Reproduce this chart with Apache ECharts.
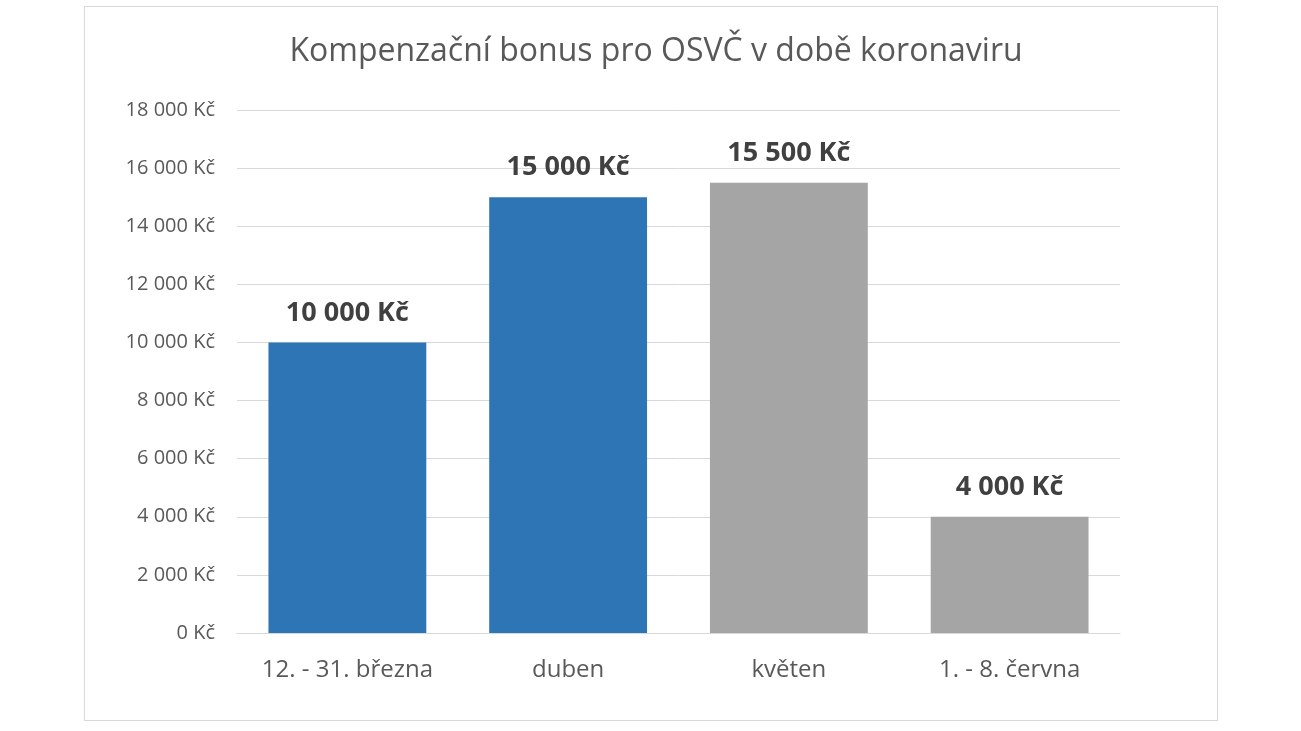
<!DOCTYPE html>
<html><head><meta charset="utf-8">
<script src="https://cdn.jsdelivr.net/npm/echarts@6/dist/echarts.min.js"></script>
<style>html,body{margin:0;padding:0;background:#fff}#c{width:1301px;height:731px}
#frame{position:absolute;left:84px;top:6px;width:1132px;height:713px;border:1px solid #d9d9d9;box-sizing:content-box;pointer-events:none}</style>
</head><body><div id="c"></div><div id="frame"></div>
<script>
const categories = ['12. - 31. března', 'duben', 'květen', '1. - 8. června'];
const values = [10000, 15000, 15500, 4000];
const barColors = ['#2E75B6', '#2E75B6', '#A5A5A5', '#A5A5A5'];
const title = 'Kompenzační bonus pro OSVČ v době koronaviru';
function fmt(v){ return String(v).replace(/\B(?=(\d{3})+(?!\d))/g, ' ') + ' Kč'; }
const chart = echarts.init(document.getElementById('c'));
chart.setOption({
  animation: false,
  title: { text: title, left: 651, textAlign: 'center', top: 31,
    textStyle: { fontFamily: 'Open Sans', fontSize: 32, fontWeight: 'normal', color: '#595959' } },
  grid: { left: 237, right: 181, top: 110, bottom: 98 },
  xAxis: { type: 'category', data: categories,
    axisLine: { lineStyle: { color: '#d9d9d9', width: 1 } },
    axisTick: { show: false },
    axisLabel: { interval: 0, hideOverlap: false, fontFamily: 'Open Sans', fontSize: 24, color: '#595959', margin: 25 } },
  yAxis: { type: 'value', min: 0, max: 18000, interval: 2000,
    axisLine: { show: false }, axisTick: { show: false },
    splitLine: { lineStyle: { color: '#d9d9d9', width: 1 } },
    axisLabel: { fontFamily: 'Open Sans', fontSize: 20, color: '#595959', margin: 22, formatter: fmt } },
  series: [{ type: 'bar', barWidth: '71.5%',
    data: values.map((v, i) => ({ value: v, itemStyle: { color: barColors[i] } })),
    label: { show: true, position: 'top', distance: 16, formatter: p => fmt(p.value),
      fontFamily: 'Open Sans', fontSize: 27, fontWeight: 'bold', color: '#404040' } }]
});
</script></body></html>
